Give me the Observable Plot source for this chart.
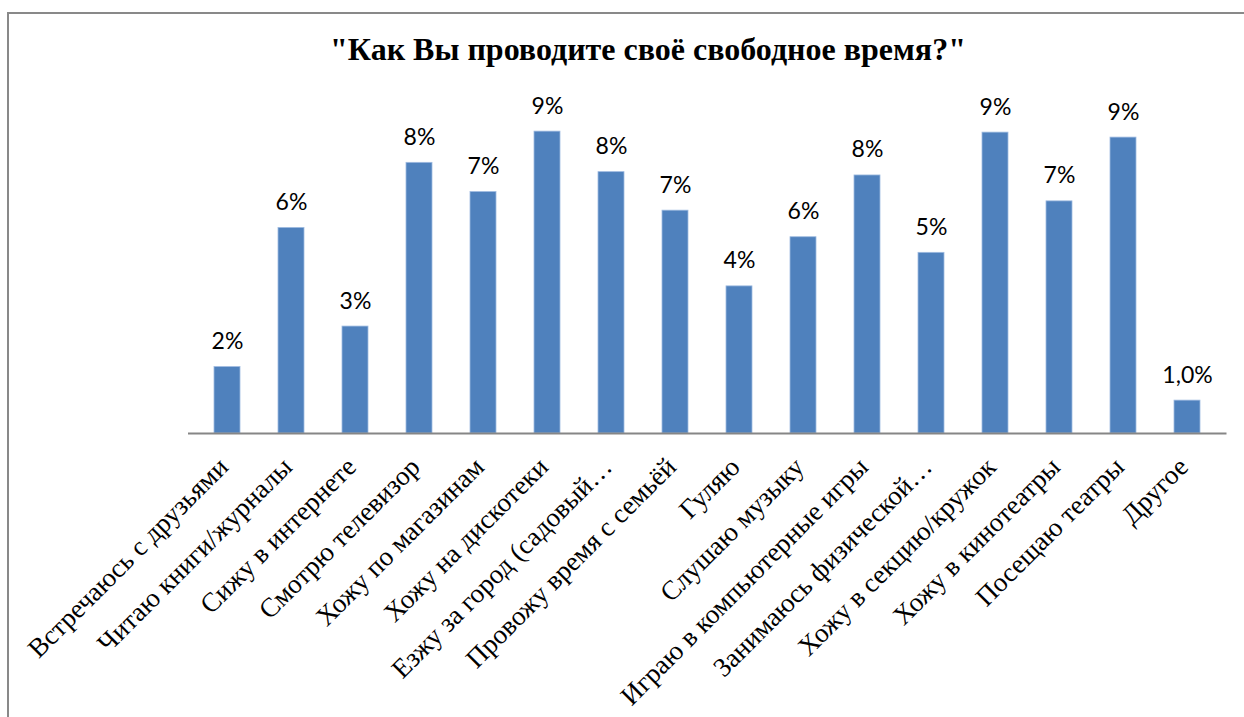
<!DOCTYPE html>
<html>
<head>
<meta charset="utf-8">
<script src="https://cdn.jsdelivr.net/npm/d3@7"></script>
<script src="https://cdn.jsdelivr.net/npm/@observablehq/plot@0.6"></script>
<style>
  html, body { margin: 0; padding: 0; background: #fff; }
  #wrap { position: relative; width: 1244px; height: 717px; overflow: hidden; background: #fff; }
  #frame { position: absolute; left: 7px; top: 12px; width: 1300px; height: 800px; border: 2px solid #898989; box-sizing: border-box; }
  #title { position: absolute; left: 0; top: 33px; width: 1296px; text-align: center; line-height: 1;
           font-family: "Liberation Serif", "Times New Roman", serif; font-weight: bold; font-size: 32px; color: #000; }
  #chart { position: absolute; left: 0; top: 0; }
  #chart svg text.tick-label { font-family: "Liberation Serif", "Times New Roman", serif; }
</style>
</head>
<body>
<div id="wrap">
  <div id="frame"></div>
  <div id="title">"Как Вы проводите своё свободное время?"</div>
  <div id="chart"></div>
</div>
<script>
const categories = [
  "Встречаюсь с друзьями",
  "Читаю книги/журналы",
  "Сижу в интернете",
  "Смотрю телевизор",
  "Хожу по магазинам",
  "Хожу на дискотеки",
  "Езжу за город (садовый…",
  "Провожу время с семьёй",
  "Гуляю",
  "Слушаю музыку",
  "Играю в компьютерные игры",
  "Занимаюсь физической…",
  "Хожу в секцию/кружок",
  "Хожу в кинотеатры",
  "Посещаю театры",
  "Другое"
];
const values = [2.00, 6.19, 3.22, 8.15, 7.27, 9.09, 7.87, 6.71, 4.43, 5.91, 7.77, 5.44, 9.06, 6.99, 8.91, 0.99];
const valueLabels = ["2%", "6%", "3%", "8%", "7%", "9%", "8%", "7%", "4%", "6%", "8%", "5%", "9%", "7%", "9%", "1,0%"];

const data = categories.map((c, i) => ({cat: c, value: values[i], label: valueLabels[i]}));

const W = 1244, H = 717;
const chart = Plot.plot({
  width: W,
  height: H,
  marginLeft: 188,
  marginRight: 17.5,
  marginTop: 100.9,
  marginBottom: 284,
  style: {background: "transparent", overflow: "visible"},
  x: {domain: categories, paddingInner: 0.6, paddingOuter: 0.3, align: 0.5, axis: null},
  y: {domain: [0, 10], axis: null},
  marks: [
    Plot.barY(data, {x: "cat", y: "value", fill: "#4f81bd", stroke: "#9fbbe0", strokeWidth: 0.8}),
    Plot.ruleY([0], {stroke: "#868686", strokeWidth: 2}),
    Plot.text(data, {x: "cat", y: "value", text: "label", lineAnchor: "bottom", dy: -18,
      fontFamily: "Lato", fontSize: 23, fill: "#000"}),
    Plot.text(data, {x: "cat", y: () => 0, text: "cat", rotate: -45, textAnchor: "end",
      lineAnchor: "middle", dx: -4, dy: 29, className: "tick-label",
      fontFamily: "Liberation Serif", fontSize: 27, fill: "#000"})
  ]
});
document.getElementById("chart").appendChild(chart);
</script>
</body>
</html>
